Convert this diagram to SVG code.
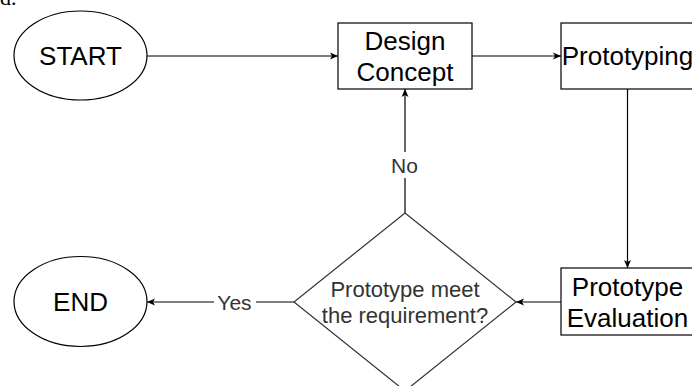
<svg xmlns="http://www.w3.org/2000/svg" width="692" height="386" viewBox="0 0 692 386">
  <style>
    .shape { fill: #ffffff; stroke: #000000; stroke-width: 1.2; }
    .diamond { fill: #ffffff; stroke: #333333; stroke-width: 1.2; }
    .edge { fill: none; stroke: #000000; stroke-width: 1.2; }
    .lbl { font-family: "Liberation Sans", Arial, sans-serif; font-size: 26px; fill: #000000; text-anchor: middle; }
    .small { font-family: "Liberation Sans", Arial, sans-serif; font-size: 22px; fill: #333333; text-anchor: middle; }
    .edgelbl { font-family: "Liberation Sans", Arial, sans-serif; font-size: 21px; fill: #333333; text-anchor: middle; }
  </style>
  <defs>
    <marker id="arrow" viewBox="0 0 8 8" refX="8" refY="4" markerWidth="8" markerHeight="8" markerUnits="userSpaceOnUse" orient="auto">
      <path d="M0,0.5 L8,4 L0,7.5 L2,4 Z" fill="#000000"/>
    </marker>
  </defs>

  <rect width="692" height="386" fill="#ffffff"/>
  <text x="0" y="5" font-family="'Liberation Serif', 'Times New Roman', serif" font-size="22" fill="#000000">d.</text>

  <g id="connectors">
    <line class="edge" x1="147" y1="56" x2="338" y2="56" marker-end="url(#arrow)"/>
    <line class="edge" x1="472" y1="56" x2="561" y2="56" marker-end="url(#arrow)"/>
    <line class="edge" x1="627.5" y1="89" x2="627.5" y2="268" marker-end="url(#arrow)"/>
    <line class="edge" x1="561" y1="302" x2="516" y2="302" marker-end="url(#arrow)"/>
    <line class="edge" x1="405" y1="213" x2="405" y2="89" marker-end="url(#arrow)"/>
    <line class="edge" x1="294" y1="302" x2="147" y2="302" marker-end="url(#arrow)"/>
    <rect x="390" y="152" width="30" height="26" fill="#ffffff"/>
    <text class="edgelbl" x="404.5" y="172.5">No</text>
    <rect x="214" y="290" width="42" height="24" fill="#ffffff"/>
    <text class="edgelbl" x="234.5" y="309.5">Yes</text>
  </g>

  <g id="start">
    <ellipse class="shape" cx="80.5" cy="55.5" rx="66.5" ry="44.5"/>
    <text class="lbl" x="80.5" y="65">START</text>
  </g>

  <g id="design-concept">
    <rect class="shape" x="338" y="23" width="134" height="66"/>
    <text class="lbl" x="405" y="50">Design</text>
    <text class="lbl" x="405" y="81">Concept</text>
  </g>

  <g id="prototyping">
    <rect class="shape" x="561" y="23" width="133" height="66"/>
    <text class="lbl" x="627.5" y="65">Prototyping</text>
  </g>

  <g id="prototype-evaluation">
    <rect class="shape" x="561" y="268" width="133" height="67"/>
    <text class="lbl" x="627.5" y="295.5">Prototype</text>
    <text class="lbl" x="627.5" y="326.5">Evaluation</text>
  </g>

  <g id="decision">
    <polygon class="diamond" points="405,213 516,302 405,391 294,302"/>
    <text class="small" x="405" y="297">Prototype meet</text>
    <text class="small" x="405" y="323">the requirement?</text>
  </g>

  <g id="end">
    <ellipse class="shape" cx="80.5" cy="301.5" rx="66.5" ry="45"/>
    <text class="lbl" x="80.5" y="311">END</text>
  </g>
</svg>
